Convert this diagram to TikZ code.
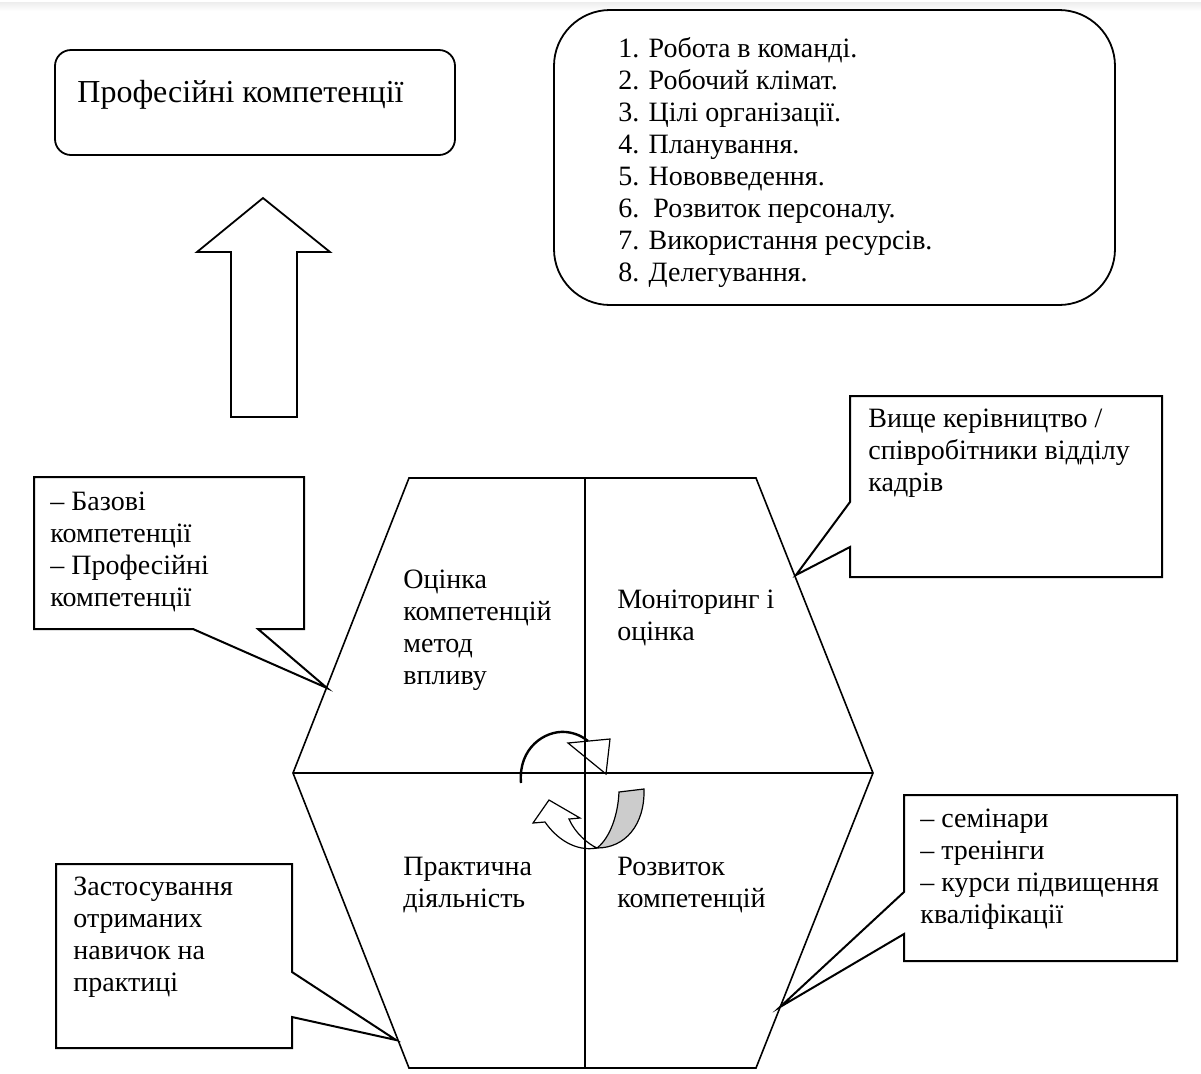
\documentclass[tikz,border=0pt]{standalone}
\usepackage{fontspec}
\setmainfont{Liberation Serif}
\usetikzlibrary{calc}
\tikzset{ t/.style = { rectangle % text block
        , anchor = north west
        , inner sep = 0pt
        , align = left
        , font = \fontsize{14}{16}\selectfont
        }
        , c/.style = { draw % callout
        , line width = 1pt
        , fill = white
        , line join = miter
        }
        }

\begin{document}
\begin{tikzpicture}[x=0.5pt, y=-0.5pt,
        box_style/.style={draw, line width=0.9pt, fill=white},
        hex_style/.style={draw, line width=0.8pt},
        turn_style/.style={draw, line width=0.6pt}]
        \useasboundingbox (0,0) rectangle (1201,1073);
        \shade [top color=gray!14, bottom color=white, draw=none] (0,2) rectangle (1201,11);

        % upper part
        \draw [box_style, rounded corners=8pt] (55,50) rectangle (455,155);
        \node [t, font=\fontsize{16}{18}\selectfont] (prof) at (77,80) {Професійні компетенції};
        \draw [box_style, rounded corners=28pt] (554,10) rectangle (1115,305);
        \node [t] (list) at (618,37) {1. Робота в команді.\\2. Робочий клімат.\\3. Цілі організації.\\4. Планування.\\5. Нововведення.\\6.\ \ Розвиток персоналу.\\7. Використання ресурсів.\\8. Делегування.};
        \draw [box_style] (231,417) -- (231,252) -- (197,252) -- (263,198) -- (330,252) -- (297,252) -- (297,417) -- cycle;

        % hexagon
        \coordinate (h1) at (409,478);
        \coordinate (h2) at (756,478);
        \coordinate (h3) at (873,773);
        \coordinate (h4) at (756,1068);
        \coordinate (h5) at (409,1068);
        \coordinate (h6) at (293,773);
        \coordinate (top_mid) at (585,478);
        \coordinate (bot_mid) at (585,1068);
        \draw [hex_style] (h1) -- (h2) -- (h3) -- (h4) -- (h5) -- (h6) -- cycle;
        \draw [hex_style] (top_mid) -- (bot_mid);
        \draw [hex_style] (h6) -- (h3);

        \node [t] (ocinka) at (403,570) {Оцінка\\компетенцій\\метод\\впливу};
        \node [t] (monit) at (617,590) {Моніторинг і\\оцінка};
        \node [t] (prakt) at (403,857) {Практична\\діяльність};
        \node [t] (rozv) at (617,857) {Розвиток\\компетенцій};

        % turning arrows
        \draw [line width=1.2pt] (521,783) .. controls (518,748) and (545,730) .. (566,732) .. controls (576,733) and (583,737) .. (588,741);
        \draw [turn_style] (568,743) -- (610,739) -- (606,774) -- cycle;
        \coordinate (tw) at (597,848);
        \draw [turn_style, fill=gray!40] (619,792) -- (644,789) .. controls (645,825) and (625,848) .. (tw) .. controls (610,838) and (618,815) .. cycle;
        \draw [turn_style] (tw) .. controls (575,852) and (556,838) .. (545,822) -- (533,823) -- (549,800) -- (580,818) -- (569,819) .. controls (575,833) and (588,844) .. (tw);

        % callouts
        \draw [c] (34,477) -- (304,477) -- (304,629) -- (258,629) -- (327,688) -- (193,629) -- (34,629) -- cycle;
        \node [t] (bazovi) at (50,492) {– Базові\\компетенції\\– Професійні\\компетенції};
        \draw [c] (850,396) -- (1162,396) -- (1162,577) -- (850,577) -- (850,547) -- (796,575) -- (850,502) -- cycle;
        \node [t] (kerivn) at (868,409) {Вище керівництво /\\співробітники відділу\\кадрів};
        \draw [c] (56,864) -- (292,864) -- (292,972) -- (396,1040) -- (292,1017) -- (292,1048) -- (56,1048) -- cycle;
        \node [t] (zastos) at (73,877) {Застосування\\отриманих\\навичок на\\практиці};
        \draw [c] (904,795) -- (1177,795) -- (1177,961) -- (904,961) -- (904,934) -- (780,1007) -- (904,892) -- cycle;
        \node [t] (semin) at (920,809) {– семінари\\– тренінги\\– курси підвищення\\кваліфікації};
        
\end{tikzpicture}
\end{document}
